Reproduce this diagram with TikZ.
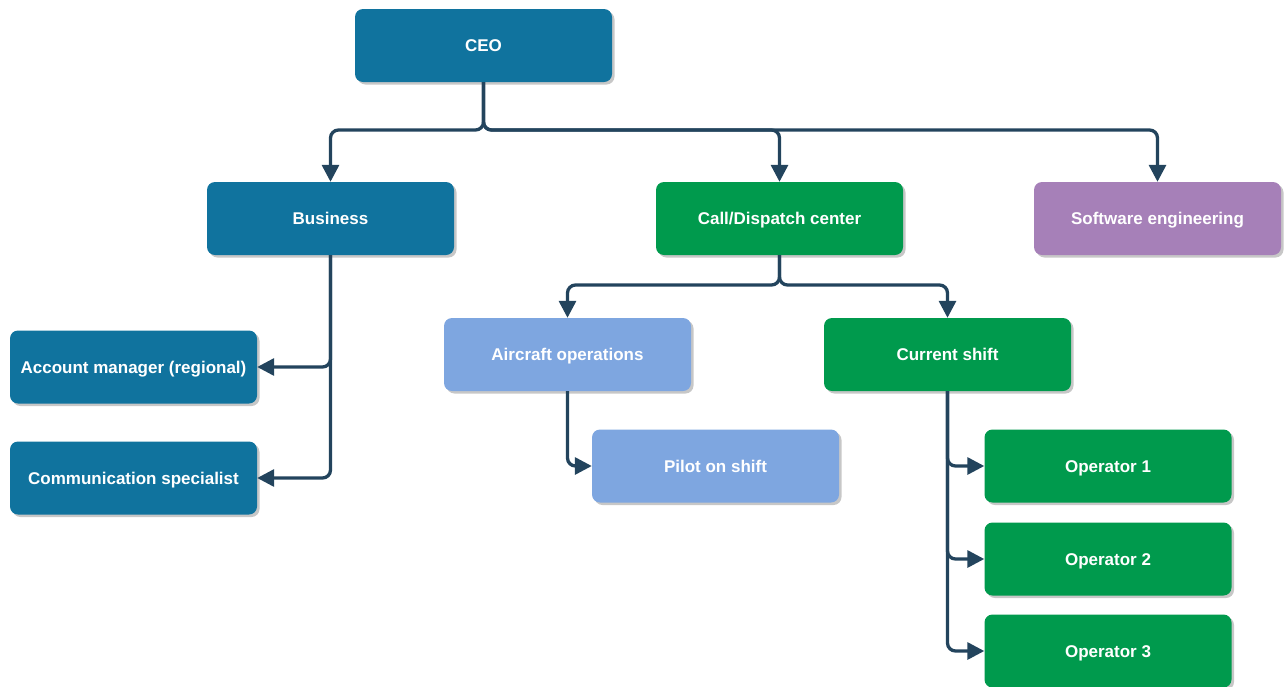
\documentclass[tikz,border=0pt]{standalone}
\usepackage{fontspec}
\setmainfont{Liberation Sans}
\usetikzlibrary{arrows.meta,shadows}
\definecolor{ceoblue}{HTML}{10739E}
\definecolor{dispgreen}{HTML}{009A4D}
\definecolor{lightblue}{HTML}{7EA6E0}
\definecolor{softpurple}{HTML}{A680B8}
\definecolor{linknavy}{HTML}{23445D}
\tikzset{
  unit/.style={rectangle, rounded corners=8pt, minimum width=247pt, minimum height=73pt,
    inner sep=0pt, text height=12.2pt, text depth=0pt, text=white,
    font=\fontsize{17}{20}\selectfont\bfseries,
    drop shadow={shadow xshift=2.5pt, shadow yshift=-2.5pt, fill=black, opacity=0.22}},
  bluebox/.style={unit, fill=ceoblue},
  greenbox/.style={unit, fill=dispgreen},
  skybox/.style={unit, fill=lightblue},
  purplebox/.style={unit, fill=softpurple},
  link/.style={draw=linknavy, line width=3.3pt, rounded corners=8pt,
    -{Triangle[length=17pt,width=17pt]}},
}
\begin{document}
\begin{tikzpicture}[x=1pt,y=-1pt]
  \useasboundingbox (0,0) rectangle (1286,686);
  % boxes
  \node[bluebox, minimum width=257pt] (ceo) at (483.5,45.5) {CEO};
  \node[bluebox] (business) at (330.5,218.5) {Business};
  \node[greenbox] (dispatch) at (779.5,218.5) {Call/Dispatch center};
  \node[purplebox] (software) at (1157.5,218.5) {Software engineering};
  \node[bluebox] (account) at (133.5,367) {Account manager (regional)};
  \node[bluebox] (comm) at (133.5,478) {Communication specialist};
  \node[skybox] (aircraft) at (567.5,354.5) {Aircraft operations};
  \node[greenbox] (shift) at (947.5,354.5) {Current shift};
  \node[skybox] (pilot) at (715.5,466) {Pilot on shift};
  \node[greenbox] (op1) at (1108,466) {Operator 1};
  \node[greenbox] (op2) at (1108,559) {Operator 2};
  \node[greenbox] (op3) at (1108,651) {Operator 3};
  % junction points
  \coordinate (ceojoin) at (483.5,130);
  \coordinate (dispjoin) at (779.5,285);
  % connectors
  \draw[link] (ceo.south) -- (ceojoin) -| (business.north);
  \draw[link] (ceo.south) -- (ceojoin) -| (dispatch.north);
  \draw[link] (ceo.south) -- (ceojoin) -| (software.north);
  \draw[link] (business.south) |- (account.east);
  \draw[link] (business.south) |- (comm.east);
  \draw[link] (dispatch.south) -- (dispjoin) -| (aircraft.north);
  \draw[link] (dispatch.south) -- (dispjoin) -| (shift.north);
  \draw[link] (aircraft.south) |- (pilot.west);
  \draw[link] (shift.south) |- (op1.west);
  \draw[link] (shift.south) |- (op2.west);
  \draw[link] (shift.south) |- (op3.west);
\end{tikzpicture}
\end{document}
